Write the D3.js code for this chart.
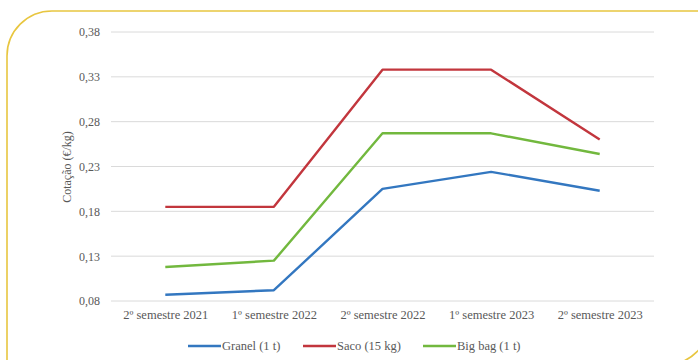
<!DOCTYPE html>
<html>
<head>
<meta charset="utf-8">
<script src="https://cdn.jsdelivr.net/npm/d3@7"></script>
<style>
  html, body { margin: 0; padding: 0; background: #fff; }
  svg { display: block; }
  svg text { font-family: "Liberation Serif", "Times New Roman", "DejaVu Serif", serif !important; fill: #595959; }
</style>
</head>
<body>
<svg id="chart" width="698" height="360"></svg>
<script>
// Semesters on the x axis
const categories = ["2º semestre 2021", "1º semestre 2022", "2º semestre 2022", "1º semestre 2023", "2º semestre 2023"];
// Price quotes (€/kg) per packaging type
const granel = [0.087, 0.092, 0.205, 0.224, 0.203];
const saco = [0.185, 0.185, 0.338, 0.338, 0.26];
const bigBag = [0.118, 0.125, 0.267, 0.267, 0.244];
const seriesNames = ["Granel (1 t)", "Saco (15 kg)", "Big bag (1 t)"];
const yTicks = [0.08, 0.13, 0.18, 0.23, 0.28, 0.33, 0.38];
const yTitle = "Cotação (€/kg)";

const colors = ["#3377c0", "#c2363d", "#72b83e"];
const series = [granel, saco, bigBag];

const svg = d3.select("#chart");

// Frame: rounded top-left and bottom-right corners
svg.append("path")
  .attr("d", "M7,365 L7,56 A45,45 0 0 1 52,11 L710,11 L710,320 A45,45 0 0 1 665,365 Z")
  .attr("fill", "none")
  .attr("stroke", "#e8c640")
  .attr("stroke-width", 1.6);

const plot = { left: 111, right: 654, top: 32, bottom: 301 };

const x = d3.scalePoint()
  .domain(categories)
  .range([plot.left, plot.right])
  .padding(0.5);

const y = d3.scaleLinear()
  .domain([0.08, 0.38])
  .range([plot.bottom, plot.top]);

const fmt = v => d3.format(".2f")(v).replace(".", ",");

// Horizontal gridlines
svg.append("g")
  .selectAll("line")
  .data(yTicks)
  .join("line")
  .attr("x1", plot.left)
  .attr("x2", plot.right)
  .attr("y1", d => y(d))
  .attr("y2", d => y(d))
  .attr("stroke", "#dadada")
  .attr("stroke-width", 1);

// Y axis labels
const yAxis = d3.axisLeft(y).tickValues(yTicks).tickFormat(fmt).tickSize(0).tickPadding(0);
svg.append("g")
  .attr("transform", `translate(${plot.left - 11},0)`)
  .call(yAxis)
  .call(g => g.select(".domain").remove())
  .call(g => g.selectAll("text")
    .attr("font-size", 12)
    .attr("fill", "#595959"));

// X axis labels
const xAxis = d3.axisBottom(x).tickSize(0).tickPadding(0);
svg.append("g")
  .attr("transform", `translate(0,${plot.bottom + 9})`)
  .call(xAxis)
  .call(g => g.select(".domain").remove())
  .call(g => g.selectAll("text")
    .attr("font-size", 12.5)
    .attr("fill", "#595959"));

// Y axis title
svg.append("text")
  .attr("transform", `translate(71,167) rotate(-90)`)
  .attr("text-anchor", "middle")
  .attr("font-size", 12)
  .text(yTitle);

// Series lines
const line = d3.line()
  .x((d, i) => x(categories[i]))
  .y(d => y(d));

svg.append("g")
  .selectAll("path")
  .data(series)
  .join("path")
  .attr("d", d => line(d))
  .attr("fill", "none")
  .attr("stroke", (d, i) => colors[i])
  .attr("stroke-width", 2.4)
  .attr("stroke-linejoin", "round");

// Legend
const legendX = [188, 303, 423];
const legend = svg.append("g")
  .selectAll("g")
  .data(seriesNames)
  .join("g")
  .attr("transform", (d, i) => `translate(${legendX[i]},346)`);

legend.append("line")
  .attr("x1", 0).attr("x2", 33)
  .attr("y1", 0).attr("y2", 0)
  .attr("stroke", (d, i) => colors[i])
  .attr("stroke-width", 2.4);

legend.append("text")
  .attr("x", 34)
  .attr("y", 4)
  .attr("font-size", 12.5)
  .text(d => d);
</script>
</body>
</html>
